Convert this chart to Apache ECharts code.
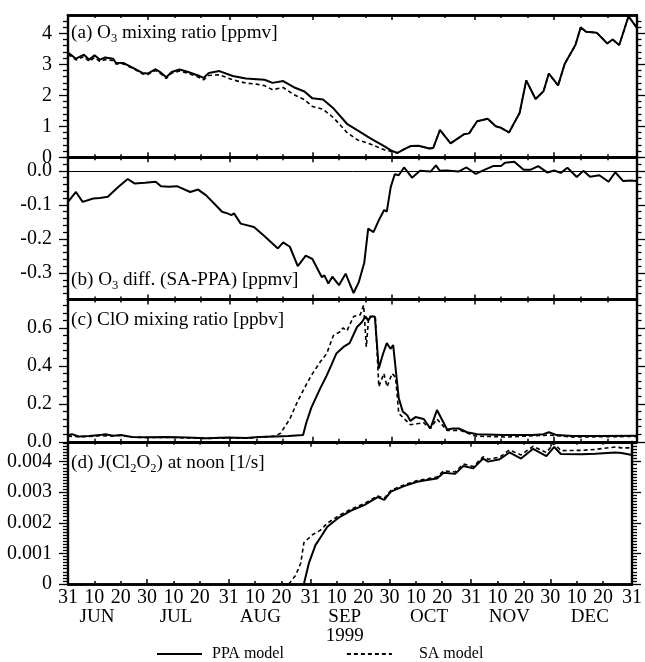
<!DOCTYPE html>
<html><head><meta charset="utf-8">
<script src="https://cdn.jsdelivr.net/npm/echarts@6/dist/echarts.min.js"></script>
<style>html,body{margin:0;padding:0;background:#fff}#c{width:645px;height:662px}</style>
</head><body><div id="c"></div>
<script>
// ---------- DATA (day 0 = 31 May 1999, day 214 = 31 Dec 1999) ----------
const xTickDays   = [0,10,20,30,40,50,61,71,81,92,102,112,122,132,142,153,163,173,183,193,203,214];
const xTickLabels = ['31','10','20','30','10','20','31','10','20','31','10','20','30','10','20','31','10','20','30','10','20','31'];
const xMajorDays  = [0,30,61,92,122,153,183,214];
const monthNames  = ['JUN','JUL','AUG','SEP\n1999','OCT','NOV','DEC'];
const monthLabelDays = [11,41,73,105,137,167.5,198];

// (a) O3 mixing ratio [ppmv]
const o3Days = [0,3,6,8,10,12,14,17,18,21, 25,28,30,33,35,37,39,42,45,49, 51,53,57,62,67,71,74,77,81,85,
  89,92,96,100,105,109,114,119,122,124, 127,129,132,136,137.5,140,144,149,151,154, 158,161,163,166,170,172.5,176,179,181,184.5,
  187,191,193,195,199,203,205,207.5,211,214];
const o3PPA = [3.38,3.18,3.31,3.15,3.29,3.15,3.22,3.18,3.05,3.04, 2.86,2.72,2.70,2.84,2.73,2.58,2.75,2.83,2.76,2.64,
  2.56,2.72,2.78,2.62,2.54,2.52,2.50,2.40,2.46,2.26, 2.12,1.90,1.86,1.57,1.08,0.87,0.60,0.36,0.20,0.14,
  0.28,0.36,0.37,0.28,0.30,0.88,0.45,0.74,0.77,1.16, 1.24,1.00,0.95,0.80,1.43,2.48,1.88,2.13,2.70,2.32,
  3.02,3.62,4.19,4.05,4.02,3.67,3.80,3.62,4.55,4.19];
const o3SA = [3.32,3.14,3.25,3.09,3.22,3.09,3.15,3.12,3.01,3.01, 2.84,2.69,2.67,2.80,2.69,2.54,2.71,2.78,2.71,2.59,
  2.50,2.64,2.66,2.50,2.39,2.36,2.31,2.18,2.25,2.02, 1.86,1.64,1.55,1.27,0.80,0.56,0.42,0.24,0.18,0.14,
  0.28,0.36,0.37,0.28,0.30,0.88,0.45,0.74,0.77,1.16, 1.24,1.00,0.95,0.80,1.43,2.48,1.88,2.13,2.70,2.32,
  3.02,3.62,4.19,4.05,4.02,3.67,3.80,3.62,4.55,4.19];

// (b) O3 diff. (SA-PPA) [ppmv]
const diffDays = [0,3,5.5,9.5,12,15,19,22.5,25,29, 33,35,38,41,46,49,52,55,58,60, 61.5,62.5,65,70,74,79,81,83.5,86.5,89.5,
  92,95.5,96.5,98,99.5,102,104.5,107.5,109.5,111.5, 113,115,117,119,120,121.5,123,124.5,126.5,129.5,
  132.5,136.5,138.5,140,142.5,147,150,153.5,156.5,160, 163,164.5,168,171.5,174,177,180.5,183,185.5,188,
  191.5,194,196.5,200,203.5,206,209,212,214];
const diffVals = [-0.091,-0.062,-0.091,-0.081,-0.080,-0.076,-0.047,-0.024,-0.037,-0.035,
  -0.032,-0.045,-0.047,-0.045,-0.062,-0.055,-0.072,-0.096,-0.120,-0.125,
  -0.130,-0.125,-0.155,-0.165,-0.192,-0.228,-0.210,-0.223,-0.280,-0.249,
  -0.259,-0.312,-0.307,-0.331,-0.311,-0.336,-0.302,-0.359,-0.326,-0.271,
  -0.170,-0.180,-0.145,-0.115,-0.120,-0.047,-0.010,-0.013,0.010,-0.020,
  0.000,-0.002,0.016,0.000,0.001,-0.002,0.010,-0.009,0.002,0.014,
  0.014,0.024,0.027,0.003,0.003,0.014,-0.005,0.001,-0.006,0.009,
  -0.018,0.000,-0.017,-0.013,-0.032,-0.004,-0.030,-0.028,-0.030];

// (c) ClO mixing ratio [ppbv]
const cloDaysPPA = [0,1.5,4,8,12,14,17,20,24,30, 37,45,52,60,67,72,78,83,88.5,89.7,
  91.6,94.9,97.4,99,101,103.7,106,108.8,110.6,112, 113,114,115.5,117,118.5,120,121.4,122.4,124.5,126,
  127.7,128.9,130.8,133.9,136.4,138.9,142.7,145,147.1,150.2, 154,164,175,179,181,184,190,200,214];
const cloPPA = [0.035,0.040,0.028,0.030,0.035,0.040,0.032,0.036,0.025,0.024,
  0.025,0.022,0.018,0.022,0.020,0.025,0.028,0.030,0.035,0.100,
  0.180,0.280,0.350,0.400,0.465,0.500,0.520,0.605,0.630,0.660,
  0.640,0.660,0.660,0.386,0.460,0.520,0.490,0.510,0.230,0.160,
  0.140,0.110,0.130,0.120,0.070,0.167,0.065,0.070,0.070,0.050,
  0.040,0.035,0.035,0.040,0.050,0.035,0.030,0.030,0.032];
const cloDaysSA = [0,4,8,12,17,20,24,30,37,45, 52,60,67,72,78,80,83.5,86,88.5,91.6,
  94.9,97.4,99.9,102.4,103.5,105,107.5,110,111.3,112.3, 113.2,115.7,117,118.9,120.1,122,123.3,124.5,127,128.9,
  131.4,133.9,136.4,138.9,142.7,147.7,153.3,165,181,190, 214];
const cloSA = [0.030,0.026,0.028,0.032,0.030,0.033,0.024,0.022,0.023,0.020,
  0.017,0.020,0.019,0.024,0.030,0.045,0.120,0.200,0.270,0.350,
  0.420,0.465,0.560,0.580,0.600,0.585,0.660,0.670,0.720,0.500,
  0.660,0.660,0.290,0.360,0.290,0.360,0.340,0.150,0.115,0.090,
  0.095,0.100,0.070,0.120,0.060,0.060,0.030,0.025,0.035,0.025,
  0.028];

// (d) J(Cl2O2) at noon [1/s]
const jDaysPPA = [89.5,91.4,93.9,96.4,98.3,102.4,107.4,112.4,117.5,120, 122.5,127.5,132.5,136.3,140,142.5,146.9,150,153.8,157.5,
  159.4,163.8,167.5,171.9,176.5,181.5,184.5,187,195,200, 207.8,210,214];
const jPPA = [0,0.00068,0.00127,0.00160,0.00186,0.00215,0.00240,0.00258,0.00284,0.00275,
  0.00302,0.00320,0.00334,0.00340,0.00345,0.00364,0.00360,0.00386,0.00378,0.00410,
  0.00400,0.00408,0.00430,0.00410,0.00442,0.00418,0.00448,0.00425,0.00424,0.00426,
  0.00430,0.00428,0.00422];
const jDaysSA = [81,84,86.4,88.3,89.5,92.6,95.8,98.3,102.4,107.4, 112.4,117.5,120,122.5,127.5,132.5,136.3,140,142.5,146.9,
  150,153.8,157.5,159.4,163.8,167.5,171.9,176.5,181.5,184.5, 187,195,200,207.8,210,214];
const jSA = [0,0.00002,0.00029,0.00068,0.00135,0.00160,0.00176,0.00198,0.00222,0.00245,
  0.00263,0.00288,0.00280,0.00306,0.00324,0.00338,0.00344,0.00350,0.00370,0.00366,
  0.00392,0.00384,0.00416,0.00408,0.00415,0.00438,0.00422,0.00450,0.00430,0.00460,
  0.00436,0.00437,0.00440,0.00448,0.00445,0.00445];

// y-axis ticks
const yMajor = [[0,1,2,3,4],[-0.3,-0.2,-0.1,0.0],[0.0,0.2,0.4,0.6],[0,0.001,0.002,0.003,0.004]];
const yRange = [[0,4.59],[-0.378,0.04],[0,0.75],[0,0.00465]];
const yMinorStep = [0.2,0.02,0.04,0.0001];
const titles = [
  '{t|(a) O}{s|3}{t| mixing ratio [ppmv]}',
  '{t|(b) O}{s|3}{t| diff. (SA-PPA) [ppmv]}',
  '{t|(c) ClO mixing ratio [ppbv]}',
  '{t|(d) J(Cl}{s|2}{t|O}{s|2}{t|) at noon [1/s]}'
];

// ---------- LAYOUT ----------
const FONT = 'Liberation Serif';
const L = 68, R = 8.5, TOP = 15, H = 142.25;
const titleTops = [21, 268, 308, 451];
const yFmt = [
  v => String(Math.round(v)),
  v => (Math.abs(v) < 1e-9 ? '0.0' : v.toFixed(1)),
  v => v.toFixed(1),
  v => (v === 0 ? '0' : v.toFixed(3))
];

const grid = [], xAxis = [], yAxis = [], series = [], title = [];
const xMinorDays = xTickDays.filter(d => xMajorDays.indexOf(d) < 0);
const mainX = [], mainY = [];

function xAx(g, pos, vals, len, extra) {
  return Object.assign({
    type: 'value', gridIndex: g, position: pos, min: 0, max: 214,
    axisLine: {show: true, onZero: false, lineStyle: {color: '#000', width: 2.5}},
    axisTick: {show: true, inside: true, length: len, customValues: vals, lineStyle: {color: '#000', width: 1.5}},
    axisLabel: {show: false}, splitLine: {show: false}
  }, extra || {});
}
function yAx(g, pos, vals, len, extra) {
  return Object.assign({
    type: 'value', gridIndex: g, position: pos, min: yRange[g][0], max: yRange[g][1],
    axisLine: {show: true, onZero: false, lineStyle: {color: '#000', width: 2.2}},
    axisTick: {show: true, inside: false, length: len, customValues: vals, lineStyle: {color: '#000', width: 1.3}},
    axisLabel: {show: false}, splitLine: {show: false}
  }, extra || {});
}

for (let g = 0; g < 4; g++) {
  grid.push({left: L, right: R, top: TOP + g * H, height: H});
  mainX.push(xAxis.length);
  const bottomExtra = g === 3 ? {
    axisLabel: {show: true, customValues: xTickDays, margin: 4, color: '#000', fontFamily: FONT, fontSize: 20,
      formatter: v => { const i = xTickDays.indexOf(v); return i >= 0 ? xTickLabels[i] : ''; }}
  } : {};
  xAxis.push(xAx(g, 'bottom', xMajorDays, 5, bottomExtra));
  xAxis.push(xAx(g, 'bottom', xMinorDays, 3));
  xAxis.push(xAx(g, 'top', xMajorDays, 5));
  xAxis.push(xAx(g, 'top', xMinorDays, 3));
  const minors = [];
  const step = yMinorStep[g];
  const n0 = Math.ceil(yRange[g][0] / step - 1e-6), n1 = Math.floor(yRange[g][1] / step + 1e-6);
  for (let k = n0; k <= n1; k++) {
    const v = +(k * step).toFixed(6);
    if (!yMajor[g].some(m => Math.abs(m - v) < step / 10)) minors.push(v);
  }
  mainY.push(yAxis.length);
  yAxis.push(yAx(g, 'left', yMajor[g], 9, {
    axisLabel: {show: true, customValues: yMajor[g], margin: 16, color: '#000', fontFamily: FONT, fontSize: 20, formatter: yFmt[g]}
  }));
  yAxis.push(yAx(g, 'left', minors, 5));
  yAxis.push(yAx(g, 'right', yMajor[g], 9));
  yAxis.push(yAx(g, 'right', minors, 5));

  title.push({
    text: titles[g], left: 71, top: titleTops[g], padding: 0,
    textStyle: {fontWeight: 'normal', rich: {
      t: {fontFamily: FONT, fontSize: 19.2, fontWeight: 'normal', color: '#000', lineHeight: 24},
      s: {fontFamily: FONT, fontSize: 12.5, fontWeight: 'normal', color: '#000', lineHeight: 13, verticalAlign: 'bottom'}
    }}
  });
}
xAxis.push({
  type: 'value', gridIndex: 3, position: 'bottom', min: 0, max: 214,
  axisLine: {show: false}, axisTick: {show: false}, splitLine: {show: false},
  axisLabel: {show: true, customValues: monthLabelDays, margin: 24, color: '#000', fontFamily: FONT, fontSize: 19, lineHeight: 19,
    formatter: v => { const i = monthLabelDays.indexOf(v); return i >= 0 ? monthNames[i] : ''; }}
});

const pairs = (d, v) => d.map((x, i) => [x, v[i]]);
function line(g, name, data, dashed) {
  return {
    type: 'line', name: name, xAxisIndex: mainX[g], yAxisIndex: mainY[g], data: data,
    symbol: 'none', showSymbol: false, animation: false, clip: true,
    lineStyle: dashed ? {color: '#000', width: 1.6, type: [4, 3]} : {color: '#000', width: 2},
    itemStyle: {color: '#000'}
  };
}
series.push(line(0, 'SA model', pairs(o3Days, o3SA), true));
series.push(line(0, 'PPA model', pairs(o3Days, o3PPA), false));
const diffSeries = line(1, 'SA-PPA', pairs(diffDays, diffVals), false);
diffSeries.markLine = {silent: true, symbol: 'none', animation: false, label: {show: false},
  lineStyle: {color: '#000', width: 1, type: 'solid'}, data: [{yAxis: 0}]};
series.push(diffSeries);
series.push(line(2, 'SA model', pairs(cloDaysSA, cloSA), true));
series.push(line(2, 'PPA model', pairs(cloDaysPPA, cloPPA), false));
series.push(line(3, 'SA model', pairs(jDaysSA, jSA), true));
series.push(line(3, 'PPA model', pairs(jDaysPPA, jPPA), false));

const chart = echarts.init(document.getElementById('c'), null, {renderer: 'canvas'});
chart.setOption({
  backgroundColor: '#fff',
  animation: false,
  title: title,
  grid: grid, xAxis: xAxis, yAxis: yAxis, series: series,
  legend: {
    data: [
      {name: 'PPA model', textStyle: {padding: [0, 0, 0, 5]}},
      {name: 'SA model', textStyle: {padding: [0, 0, 0, 22]}}
    ],
    left: 151, top: 641, itemGap: 62, itemWidth: 45, itemHeight: 12,
    itemStyle: {opacity: 0},
    textStyle: {fontFamily: FONT, fontSize: 16, color: '#000'}, selectedMode: false
  }
});
</script>
</body></html>
